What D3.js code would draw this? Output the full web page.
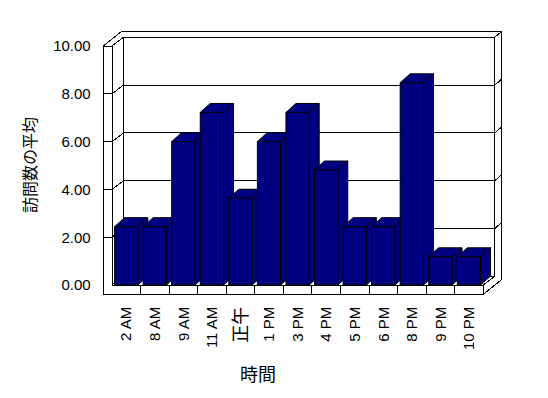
<!DOCTYPE html>
<html>
<head>
<meta charset="utf-8">
<script src="https://cdn.jsdelivr.net/npm/d3@7"></script>
<style>
  body { margin: 0; background: #fff; }
  svg text { font-family: "Liberation Sans", Arial, "Noto Sans CJK JP", sans-serif; fill: #000; }
</style>
</head>
<body>
<div class="chart"></div>
<script>
const categories = ['2 AM', '8 AM', '9 AM', '11 AM', '正午', '1 PM', '3 PM', '4 PM', '5 PM', '6 PM', '8 PM', '9 PM', '10 PM'];
const values = [2.44, 2.44, 6.0, 7.22, 3.63, 6.0, 7.22, 4.81, 2.44, 2.44, 8.46, 1.18, 1.18];
const yTicks = [0, 2, 4, 6, 8, 10];
const yTitle = '訪問数の平均';
const xTitle = '時間';

const width = 548, height = 398;
// front plane of the 3d box
const pLeft = 112, pRight = 483.3, pBottom = 285, pTop = 46;
const dx = 11.5, dy = -8.7;      // wall depth
const tx = 6.5, ty = -5.7;       // back wall thickness
const lw = 8.7, ft = 9.3;        // left wall / floor thickness
const bdx = 10, bdy = -9;        // bar depth

const svg = d3.select('.chart')
  .append('svg')
  .attr('width', width)
  .attr('height', height);

const xScale = d3.scaleBand()
  .domain(categories)
  .range([pLeft, pRight]);
const yScale = d3.scaleLinear()
  .domain([0, 10])
  .range([pBottom, pTop]);

const step = xScale.step();
const barOff = step * 0.09, barW = step * 0.815;

const line = d3.line();
const frame = svg.append('g')
  .attr('fill', 'none')
  .attr('stroke', '#000')
  .attr('shape-rendering', 'crispEdges');

const yb0 = yScale(0) + dy, yb10 = yScale(10) + dy;
const bl = pLeft + dx, br = pRight + dx;

// outer silhouette
frame.append('path')
  .attr('fill', '#fff')
  .attr('d', line([
    [pLeft - lw, pTop], [pLeft - lw + dx + tx, pTop + dy + ty], [br + tx, yb10 + ty],
    [br + tx, pBottom + ft + dy + ty], [pRight, pBottom + ft], [pLeft - lw, pBottom + ft]
  ]) + 'Z');

const segs = [
  [[pLeft - lw, pTop], [pLeft, pTop]],
  [[pLeft, pTop], [pLeft, pBottom]],
  [[pLeft, pTop], [bl, yb10]],
  [[bl, yb10], [br, yb10]],
  [[br, yb10], [br + tx, yb10 + ty]],
  [[bl, yb10], [bl, yb0]],
  [[br, yb10], [br, yb0]],
  [[bl, yb0], [br, yb0]],
  [[pLeft, pBottom], [bl, yb0]],
  [[pLeft, pBottom], [pRight, pBottom]],
  [[pRight, pBottom], [br, yb0]],
  [[pRight, pBottom], [pRight, pBottom + ft]]
];

yTicks.filter(d => d > 0 && d < 10).forEach(d => {
  const yf = yScale(d), yb = yf + dy;
  segs.push([[pLeft - lw, yf], [pLeft, yf]]);
  segs.push([[pLeft, yf], [bl, yb]]);
  segs.push([[bl, yb], [br, yb]]);
  segs.push([[br, yb], [br + tx, yb + ty]]);
});

categories.slice(1).forEach(c => {
  segs.push([[xScale(c), pBottom], [xScale(c), pBottom + ft]]);
});

frame.selectAll('path.seg')
  .data(segs)
  .enter()
  .append('path')
  .attr('class', 'seg')
  .attr('d', d => line(d));

// bars, left to right so the next bar hides the previous side
const bars = svg.append('g')
  .attr('fill', '#000080')
  .attr('stroke', '#000')
  .attr('stroke-linejoin', 'miter');

categories.forEach((c, i) => {
  const x0 = xScale(c) + barOff, x1 = x0 + barW;
  const yv = yScale(values[i]), y0 = yScale(0);
  const g = bars.append('g');
  g.append('path').attr('d', line([[x0, yv], [x1, yv], [x1 + bdx, yv + bdy], [x0 + bdx, yv + bdy]]) + 'Z');
  g.append('path').attr('d', line([[x1, yv], [x1 + bdx, yv + bdy], [x1 + bdx, y0 + bdy], [x1, y0]]) + 'Z');
  g.append('path').attr('d', line([[x0, yv], [x1, yv], [x1, y0], [x0, y0]]) + 'Z');
});

// y axis labels
const yAxis = d3.axisLeft(yScale)
  .tickValues(yTicks)
  .tickFormat(d3.format('.2f'))
  .tickSize(0)
  .tickPadding(12.6);
svg.append('g')
  .attr('transform', `translate(${pLeft - lw}, 0)`)
  .call(yAxis)
  .call(g => g.select('.domain').remove())
  .selectAll('text')
  .attr('font-size', 15)
  .attr('font-family', null);

// x axis labels
const xAxis = d3.axisBottom(xScale).tickSize(0);
svg.append('g')
  .attr('transform', `translate(${barOff + barW / 2 - step / 2}, 306.7)`)
  .call(xAxis)
  .call(g => g.select('.domain').remove())
  .selectAll('text')
  .attr('font-size', d => /[^\x00-\x7f]/.test(d) ? 18 : 15)
  .attr('font-family', null)
  .attr('x', 0)
  .attr('y', 0)
  .attr('dy', '0.35em')
  .attr('transform', 'rotate(-90)')
  .style('text-anchor', 'end');

svg.append('text')
  .attr('transform', 'translate(30.5, 165) rotate(-90)')
  .attr('text-anchor', 'middle')
  .attr('dy', '0.35em')
  .attr('font-size', 16)
  .text(yTitle);

svg.append('text')
  .attr('x', 258)
  .attr('y', 375)
  .attr('text-anchor', 'middle')
  .attr('dy', '0.35em')
  .attr('font-size', 18)
  .text(xTitle);
</script>
</body>
</html>
